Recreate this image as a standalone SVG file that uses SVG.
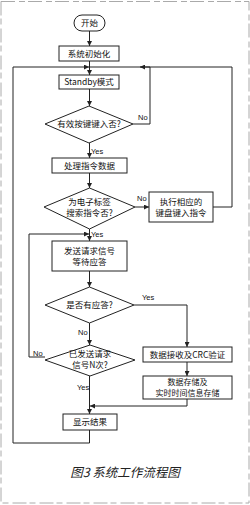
<svg xmlns="http://www.w3.org/2000/svg" width="250" height="505" viewBox="0 0 250 505">
<style>
.n{fill:#fff;stroke:#222;stroke-width:1}
.t{font-family:"Noto Sans CJK SC","Liberation Sans",sans-serif;font-size:8.5px;fill:#111;text-anchor:middle}
.s{font-size:8px}
.l{font-family:"Liberation Sans",sans-serif;font-size:7.5px;fill:#111}
.c{fill:none;stroke:#222;stroke-width:1}
</style>
<defs>
<marker id="a" viewBox="0 0 8 8" refX="8" refY="4" markerWidth="5" markerHeight="5" orient="auto"><path d="M0,0L8,4L0,8z" fill="#222"/></marker>
</defs>
<rect x="1" y="1.5" width="248" height="501.5" fill="none" stroke="#aaa" stroke-width="1" stroke-dasharray="14,4,6,3"/>
<g id="connectors">
<path class="c" d="M89.5,31V46" marker-end="url(#a)"/>
<path class="c" d="M89.5,61V75" marker-end="url(#a)"/>
<path class="c" d="M89.5,89V106" marker-end="url(#a)"/>
<path class="c" d="M133,124H150V67H140" marker-end="url(#a)"/>
<path class="c" d="M89.5,143V158" marker-end="url(#a)"/>
<path class="c" d="M89.5,173V188" marker-end="url(#a)"/>
<path class="c" d="M135,207H149" marker-end="url(#a)"/>
<path class="c" d="M213,207H232V67H89.5"/>
<path class="c" d="M89.5,229V241" marker-end="url(#a)"/>
<path class="c" d="M89.5,271V287" marker-end="url(#a)"/>
<path class="c" d="M134,305H187V347" marker-end="url(#a)"/>
<path class="c" d="M89.5,323V345" marker-end="url(#a)"/>
<path class="c" d="M45,357H29V234H89" marker-end="url(#a)"/>
<path class="c" d="M187,362V376" marker-end="url(#a)"/>
<path class="c" d="M187,399V406H90" marker-end="url(#a)"/>
<path class="c" d="M89.5,376V414" marker-end="url(#a)"/>
<path class="c" d="M89.5,430V443H13V67H89" marker-end="url(#a)"/>
</g>
<g id="start"><rect class="n" x="74" y="15" width="31" height="16" rx="8"/><text class="t" x="89.5" y="26">开始</text></g>
<g id="init"><rect class="n" x="59" y="46" width="60" height="15"/><text class="t" x="89" y="56.5">系统初始化</text></g>
<g id="standby"><rect class="n" x="59" y="75" width="60" height="14"/><text class="t" x="89" y="85">Standby模式</text></g>
<g id="d1"><polygon class="n" points="89,106 133,124 89,143 45,124"/><text class="t" x="89" y="127">有效按键键入否?</text></g>
<text class="l" x="138" y="120">No</text>
<text class="l" x="91" y="154">Yes</text>
<g id="proc"><rect class="n" x="52" y="158" width="75" height="15"/><text class="t" x="89.5" y="168.5">处理指令数据</text></g>
<g id="d2"><polygon class="n" points="89.5,188 135,207 89.5,229 44,207"/><text class="t" x="89.5" y="205">为电子标签</text><text class="t" x="89.5" y="215.5">搜索指令否?</text></g>
<text class="l" x="137" y="201">No</text>
<g id="exec"><rect class="n" x="149" y="192" width="64" height="30"/><text class="t" x="181" y="205">执行相应的</text><text class="t" x="181" y="216">键盘键入指令</text></g>
<text class="l" x="91" y="237">Yes</text>
<g id="send"><rect class="n" x="52" y="241" width="75" height="30"/><text class="t" x="89.5" y="254">发送请求信号</text><text class="t" x="89.5" y="265">等待应答</text></g>
<g id="d3"><polygon class="n" points="89.5,287 134,305 89.5,323 45,305"/><text class="t" x="89.5" y="308">是否有应答?</text></g>
<text class="l" x="142" y="300">Yes</text>
<text class="l" x="78" y="335">No</text>
<g id="d4"><polygon class="n" points="90,345 135,360 90,376 45,360"/><text class="t" x="90" y="357">已发送请求</text><text class="t" x="90" y="367.5">信号N次?</text></g>
<text class="l" x="33" y="356">No</text>
<text class="l" x="77" y="390">Yes</text>
<g id="crc"><rect class="n" x="143" y="347" width="89" height="15"/><text class="t" x="187.5" y="357.5">数据接收及CRC验证</text></g>
<g id="store"><rect class="n" x="143" y="376" width="89" height="23"/><text class="t s" x="187.5" y="385">数据存储及</text><text class="t s" x="187.5" y="396">实时时间信息存储</text></g>
<g id="result"><rect class="n" x="63" y="414" width="54" height="16"/><text class="t" x="90" y="425">显示结果</text></g>
<text x="125" y="477" font-family="Noto Sans CJK SC,Liberation Sans,sans-serif" font-size="12.5" font-style="italic" text-anchor="middle" fill="#222">图3 系统工作流程图</text>
</svg>
